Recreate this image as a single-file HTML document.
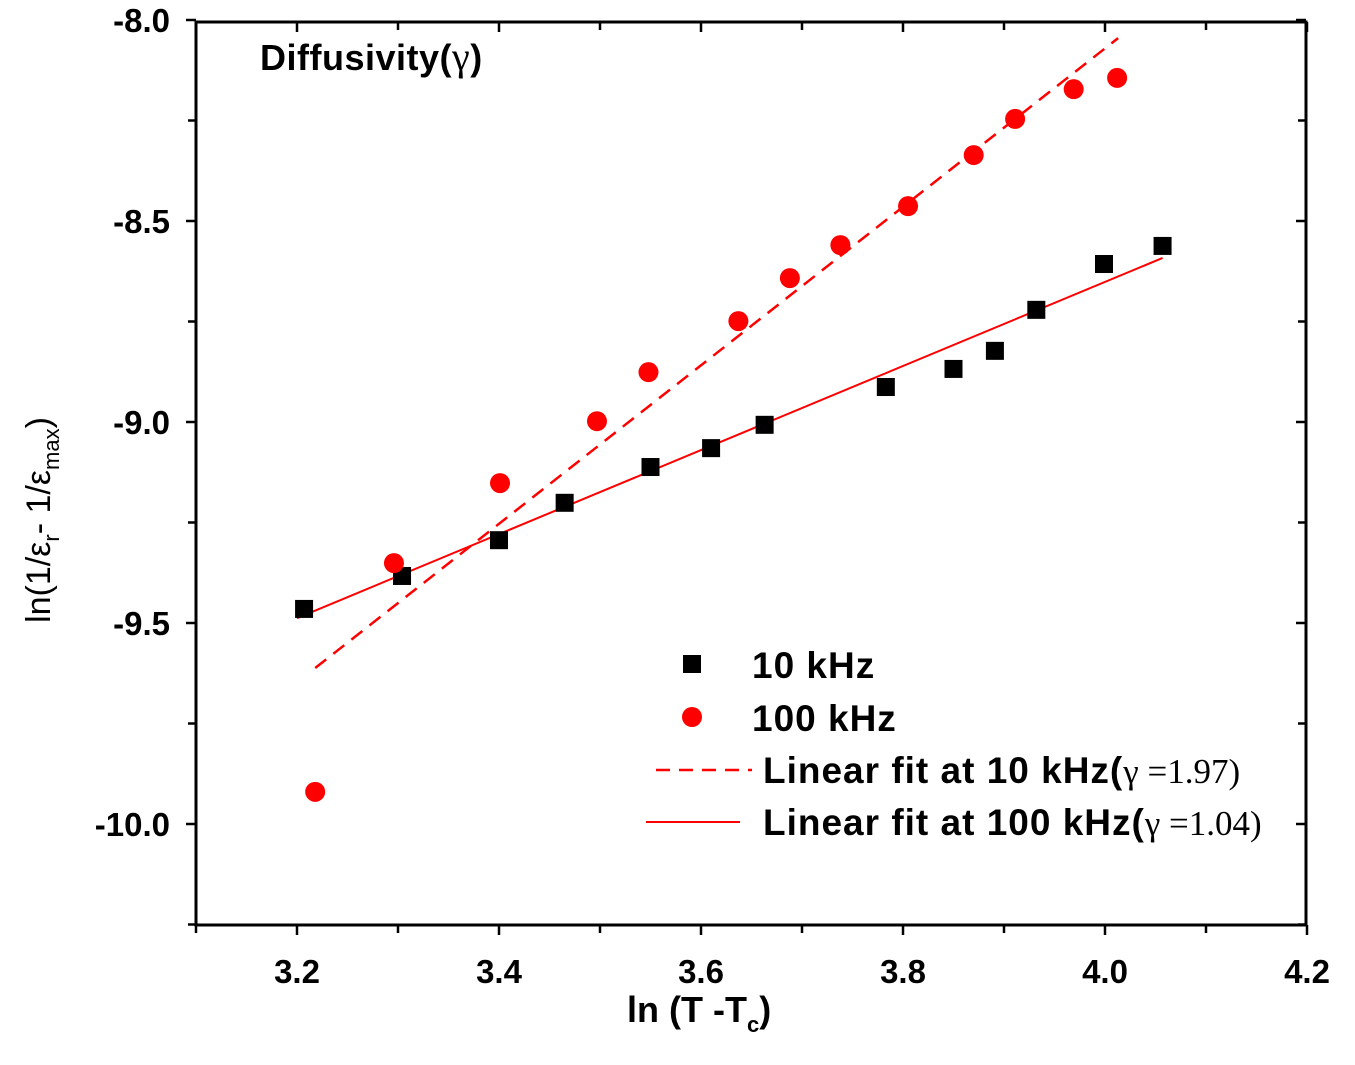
<!DOCTYPE html>
<html><head><meta charset="utf-8"><style>
body{margin:0;background:#fff;}
svg text{font-family:"Liberation Sans",Arial,sans-serif;font-weight:bold;}
</style></head><body>
<svg id="chart" width="1355" height="1060" viewBox="0 0 1355 1060" xmlns="http://www.w3.org/2000/svg">
<g id="plot"></g>
</svg>
<script>
const sqX=[3.207,3.304,3.400,3.465,3.550,3.610,3.663,3.783,3.850,3.891,3.932,3.999,4.057];
const sqY=[-9.465,-9.383,-9.294,-9.201,-9.112,-9.065,-9.007,-8.913,-8.868,-8.823,-8.721,-8.607,-8.562];
const ciX=[3.218,3.296,3.401,3.497,3.548,3.637,3.688,3.738,3.805,3.870,3.911,3.969,4.012];
const ciY=[-9.920,-9.351,-9.152,-8.998,-8.876,-8.749,-8.642,-8.560,-8.463,-8.336,-8.246,-8.172,-8.144];
const fitSolidX=[3.20,4.057];
const fitSolidY=[-9.488,-8.592];
const fitDashX=[3.218,4.013];
const fitDashY=[-9.612,-8.045];
const xTicks=[3.2,3.4,3.6,3.8,4.0,4.2];
const xTickLabels=["3.2","3.4","3.6","3.8","4.0","4.2"];
const yTicks=[-8.0,-8.5,-9.0,-9.5,-10.0];
const yTickLabels=["-8.0","-8.5","-9.0","-9.5","-10.0"];

const L=196,R=1306,T=22,B=925;
const sx=v=>L+(v-3.1)*1010;
const sy=v=>20+(-8-v)*402;
const NS="http://www.w3.org/2000/svg";
const g=document.getElementById('plot');
function mk(tag,attrs,parent){const e=document.createElementNS(NS,tag);for(const k in attrs)e.setAttribute(k,attrs[k]);(parent||g).appendChild(e);return e;}

const fr=mk('rect',{x:L,y:T,width:R-L,height:B-T,fill:'none',stroke:'#000','stroke-width':3});



for(let v=3.1;v<=4.2001;v+=0.1){
  const x=sx(v);const major=Math.abs(Math.round(v*10)%2)===0;
  mk('line',{x1:x,y1:B,x2:x,y2:B+(major?10:8),stroke:'#000','stroke-width':2.5});
  mk('line',{x1:x,y1:T,x2:x,y2:T+(major?10:8),stroke:'#000','stroke-width':2.5});
}
xTicks.forEach((v,i)=>{
  const t=mk('text',{x:sx(v),y:983,'text-anchor':'middle','font-size':33});
  t.textContent=xTickLabels[i];
  
  
});
for(let k=0;k<=9;k++){
  const v=-8-k*0.25;const y=sy(v);if(y>B+1)break;const major=k%2===0;
  mk('line',{x1:L-(major?10:8),y1:y,x2:L,y2:y,stroke:'#000','stroke-width':2.5});
  mk('line',{x1:R-(major?10:8),y1:y,x2:R,y2:y,stroke:'#000','stroke-width':2.5});
}
yTicks.forEach((v,i)=>{
  const t=mk('text',{x:170,y:sy(v)+12,'text-anchor':'end','font-size':33});
  t.textContent=yTickLabels[i];
  
  
});

const fs=mk('line',{x1:sx(fitSolidX[0]),y1:sy(fitSolidY[0]),x2:sx(fitSolidX[1]),y2:sy(fitSolidY[1]),stroke:'#f00','stroke-width':2});


const fd=mk('line',{x1:sx(fitDashX[0]),y1:sy(fitDashY[0]),x2:sx(fitDashX[1]),y2:sy(fitDashY[1]),stroke:'#f00','stroke-width':2.5,'stroke-dasharray':'14 9'});



sqX.forEach((v,i)=>{
  const r=mk('rect',{x:sx(v)-9,y:sy(sqY[i])-9,width:18,height:18,fill:'#000'});
  
  
});
ciX.forEach((v,i)=>{
  const c=mk('circle',{cx:sx(v),cy:sy(ciY[i]),r:10,fill:'#f00'});
  
  
});
</script>
<svg style="position:absolute;left:0;top:0" width="1355" height="1060">
<text x="260" y="70" font-size="36" letter-spacing="0.5">Diffusivity(<tspan font-family="Liberation Serif" style="font-weight:normal" font-size="40">γ</tspan>)</text>
<g font-size="37">
<rect x="683" y="655" width="18" height="18" fill="#000"/>
<text x="752" y="678" letter-spacing="1">10 kHz</text>
<circle cx="692" cy="717" r="10" fill="#f00"/>
<text x="752" y="731" letter-spacing="1">100 kHz</text>
<line x1="656" y1="770" x2="752" y2="770" stroke="#f00" stroke-width="2.5" stroke-dasharray="14 9"/>
<text x="763" y="783" letter-spacing="1">Linear fit at 10 kHz(<tspan font-family="Liberation Serif" style="font-weight:normal" font-size="35" letter-spacing="0">γ =1.97)</tspan></text>
<line x1="646" y1="822" x2="740" y2="822" stroke="#f00" stroke-width="2"/>
<text x="763" y="835" letter-spacing="1">Linear fit at 100 kHz(<tspan font-family="Liberation Serif" style="font-weight:normal" font-size="35" letter-spacing="0">γ =1.04)</tspan></text>
</g>
<text x="627" y="1022" font-size="36">ln (T -T<tspan font-size="22" dy="10">c</tspan><tspan dy="-10">)</tspan></text>
<text transform="translate(50,520) rotate(-90)" text-anchor="middle" font-size="34" style="font-weight:normal">ln(1/ε<tspan font-size="22" dy="9">r</tspan><tspan dy="-9">- 1/ε</tspan><tspan font-size="22" dy="9">max</tspan><tspan dy="-9">)</tspan></text>
</svg>
</body></html>
